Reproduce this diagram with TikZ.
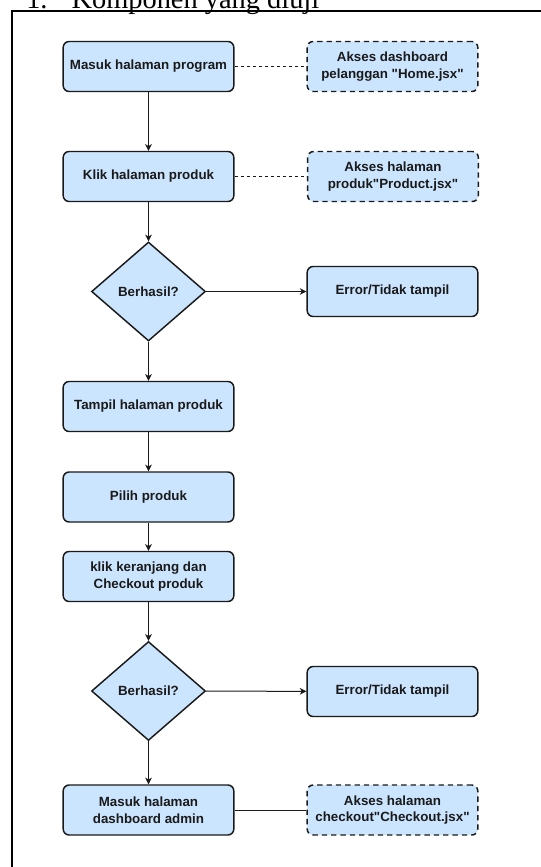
\documentclass[tikz,border=0pt]{standalone}
\usepackage{fontspec}
\setmainfont{Liberation Serif}
\newfontfamily\boxfont{Liberation Sans}
\usetikzlibrary{shapes.geometric,arrows.meta}
\definecolor{boxblue}{HTML}{CCE5FF}
\definecolor{ink}{HTML}{1A1A1A}
\tikzset{
	>={Stealth[length=5pt,width=5pt,inset=1.5pt]},
	proses/.style={draw=ink, fill=boxblue, line width=1.1pt, rounded corners=4.5pt,
		minimum width=128pt, minimum height=37.5pt, inner sep=2pt, align=center, text=ink,
		font=\boxfont\bfseries\fontsize{10}{12.4}\selectfont},
	akses/.style={proses, dash pattern=on 4pt off 3pt},
	cek/.style={proses, diamond, rounded corners=0pt, shape aspect=1.15, inner sep=0pt,
		minimum width=85.5pt, minimum height=74.25pt},
	alur/.style={draw=ink, line width=0.75pt},
	putus/.style={alur, dash pattern=on 2.5pt off 2pt}
}
\begin{document}
\begin{tikzpicture}[x=0.75pt, y=-0.75pt]
			\useasboundingbox (0, 0) rectangle (541, 867);
			\node[anchor=base west, inner sep=0pt, font=\fontsize{21.3}{24}\selectfont] (judul) at (26, 8.5) {1.\hspace{18pt}Komponen yang diuji};
			\draw[line width=1.5pt] (12, 900) -- (12, 11) -- (560, 11);
			\node[proses] (masuk) at (148.5, 66.5) {Masuk halaman program};
			\node[akses] (home) at (392.5, 66.5) {Akses dashboard\\pelanggan "Home.jsx"};
			\node[proses] (klik) at (148.5, 176.5) {Klik halaman produk};
			\node[akses] (product) at (393, 176.5) {Akses halaman\\produk"Product.jsx"};
			\node[cek] (cek1) at (148.5, 291.5) {Berhasil?};
			\node[proses] (error1) at (392.5, 291.5) {Error/Tidak tampil};
			\node[proses] (tampil) at (148.5, 406.5) {Tampil halaman produk};
			\node[proses] (pilih) at (148.5, 497) {Pilih produk};
			\node[proses] (keranjang) at (148.5, 576.5) {klik keranjang dan\\Checkout produk};
			\node[cek] (cek2) at (148.5, 691) {Berhasil?};
			\node[proses] (error2) at (392.5, 691.5) {Error/Tidak tampil};
			\node[proses] (admin) at (148.5, 810) {Masuk halaman\\dashboard admin};
			\node[akses] (checkout) at (392.5, 810) {Akses halaman\\checkout"Checkout.jsx"};
			% alur utama
			\draw[alur, ->] (masuk) -- (klik);
			\draw[alur, ->] (klik) -- (cek1);
			\draw[alur, ->] (cek1) -- (error1);
			\draw[alur, ->] (cek1) -- (tampil);
			\draw[alur, ->] (tampil) -- (pilih);
			\draw[alur, ->] (pilih) -- (keranjang);
			\draw[alur, ->] (keranjang) -- (cek2);
			\draw[alur, ->] (cek2) -- (error2);
			\draw[alur, ->] (cek2) -- (admin);
			% file yang diakses
			\draw[putus] (masuk) -- (home);
			\draw[putus] (klik) -- (product);
			\draw[alur] (admin) -- (checkout);
\end{tikzpicture}
\end{document}
